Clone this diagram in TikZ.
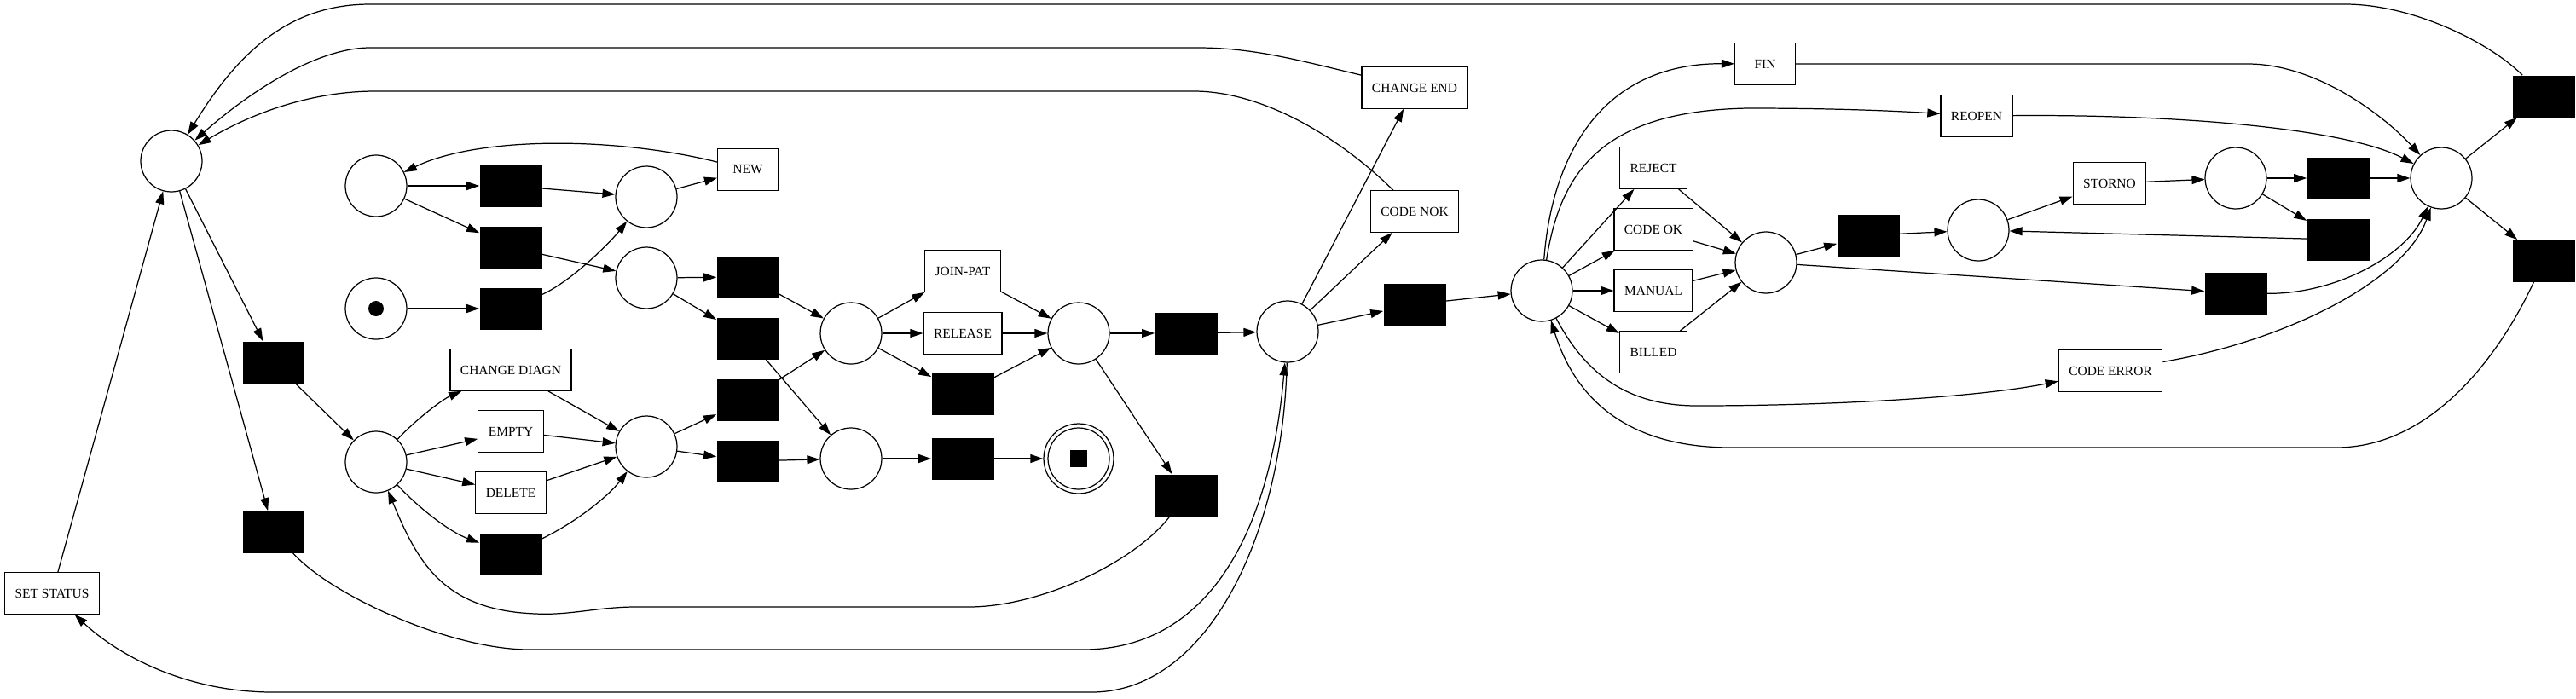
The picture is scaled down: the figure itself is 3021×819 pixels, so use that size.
\documentclass[tikz,border=0pt]{standalone}
\usepackage{fontspec}
\setmainfont{Liberation Serif}
\usetikzlibrary{arrows.meta}
\tikzset{
  plc/.style={draw, circle, minimum size=1.44cm, inner sep=0pt, line width=0.7pt},
  trn/.style={draw, rectangle, minimum width=1.42cm, minimum height=0.97cm, inner xsep=0.24cm, line width=0.7pt, font=\fontsize{8.8}{10}\selectfont},
  blk/.style={fill=black, rectangle, minimum width=1.46cm, minimum height=0.98cm, inner sep=0pt},
  edg/.style={-{Triangle[length=0.3cm, width=0.2cm]}, line width=0.7pt},
}
\begin{document}
\begin{tikzpicture}[x=0.02cm, y=-0.02cm]
  \useasboundingbox (0,0) rectangle (3021,819);
  % places
  \node[plc] (pMain) at (201,189) {};
  \node[plc] (pA) at (441,218) {};
  \node[plc] (pInit) at (441,362) {};
  \fill (pInit) circle (0.18cm);
  \node[plc] (pDiag) at (441,542) {};
  \node[plc] (pB) at (758,231) {};
  \node[plc] (pC) at (758,326) {};
  \node[plc] (pD) at (758,524) {};
  \node[plc] (pE) at (998,391) {};
  \node[plc] (pF) at (998,538) {};
  \node[plc] (pG) at (1265,391) {};
  \node[plc, minimum size=1.64cm] (pEnd) at (1265,538) {};
  \node[plc] (pEndIn) at (pEnd) {};
  \node[fill, minimum size=0.4cm, inner sep=0pt] (pEndMark) at (pEnd) {};
  \node[plc] (pH) at (1510,389) {};
  \node[plc] (pI) at (1808,341) {};
  \node[plc] (pJ) at (2071,308) {};
  \node[plc] (pK) at (2320,270) {};
  \node[plc] (pL) at (2622,209) {};
  \node[plc] (pM) at (2863,209) {};
  % named transitions
  \node[trn] (tSet) at (61,696) {SET STATUS};
  \node[trn] (tNew) at (877,199) {NEW};
  \node[trn] (tDiag) at (599,434) {CHANGE DIAGN};
  \node[trn] (tEmpty) at (599,506) {EMPTY};
  \node[trn] (tDel) at (599,578) {DELETE};
  \node[trn] (tJoin) at (1129,318) {JOIN-PAT};
  \node[trn] (tRel) at (1129,391) {RELEASE};
  \node[trn] (tChEnd) at (1659,103) {CHANGE END};
  \node[trn] (tNok) at (1659,248) {CODE NOK};
  \node[trn] (tFin) at (2070,75) {FIN};
  \node[trn] (tReopen) at (2318,136) {REOPEN};
  \node[trn] (tReject) at (1939,197) {REJECT};
  \node[trn] (tOk) at (1939,269) {CODE OK};
  \node[trn] (tManual) at (1939,341) {MANUAL};
  \node[trn] (tBilled) at (1939,413) {BILLED};
  \node[trn] (tStorno) at (2474,215) {STORNO};
  \node[trn] (tErr) at (2475,435) {CODE ERROR};
  % silent transitions
  \node[blk] (sA) at (321,425) {};
  \node[blk] (sB) at (321,624) {};
  \node[blk] (s1) at (599,218) {};
  \node[blk] (s2) at (599,290) {};
  \node[blk] (s3) at (599,362) {};
  \node[blk] (s4) at (599,650) {};
  \node[blk] (s5) at (877,325) {};
  \node[blk] (s6) at (877,397) {};
  \node[blk] (s7) at (877,469) {};
  \node[blk] (s8) at (877,541) {};
  \node[blk] (s9) at (1129,462) {};
  \node[blk] (s10) at (1129,538) {};
  \node[blk] (s11) at (1391,391) {};
  \node[blk] (s12) at (1391,581) {};
  \node[blk] (s13) at (1659,357) {};
  \node[blk] (s14) at (2191,276) {};
  \node[blk] (s15) at (2742,209) {};
  \node[blk] (s16) at (2742,281) {};
  \node[blk] (s17) at (2622,344) {};
  \node[blk] (s18) at (2983,113) {};
  \node[blk] (s19) at (2983,306) {};
  % left part
  \draw[edg] (tSet) -- (pMain);
  \draw[edg] (pMain) -- (sA);
  \draw[edg] (pMain) -- (sB);
  \draw[edg] (sA) -- (pDiag);
  \draw[edg] (pA) -- (s1);
  \draw[edg] (pA) -- (s2);
  \draw[edg] (s1) -- (pB);
  \draw[edg] (s2) -- (pC);
  \draw[edg] (pInit) -- (s3);
  \draw[edg] (s3) .. controls (670,330) and (715,285) .. (pB);
  \draw[edg] (pB) -- (tNew);
  \draw[edg] (tNew) .. controls (720,160) and (560,160) .. (pA);
  \draw[edg] (pC) -- (s5);
  \draw[edg] (pC) -- (s6);
  \draw[edg] (pDiag) .. controls (490,490) and (520,468) .. (tDiag);
  \draw[edg] (pDiag) -- (tEmpty);
  \draw[edg] (pDiag) -- (tDel);
  \draw[edg] (pDiag) .. controls (495,600) and (530,625) .. (s4);
  \draw[edg] (tDiag) -- (pD);
  \draw[edg] (tEmpty) -- (pD);
  \draw[edg] (tDel) -- (pD);
  \draw[edg] (s4) .. controls (680,610) and (715,580) .. (pD);
  \draw[edg] (pD) -- (s7);
  \draw[edg] (pD) -- (s8);
  \draw[edg] (s5) -- (pE);
  \draw[edg] (s7) -- (pE);
  \draw[edg] (s6) -- (pF);
  \draw[edg] (s8) -- (pF);
  % middle part
  \draw[edg] (pE) -- (tJoin);
  \draw[edg] (pE) -- (tRel);
  \draw[edg] (pE) -- (s9);
  \draw[edg] (tJoin) -- (pG);
  \draw[edg] (tRel) -- (pG);
  \draw[edg] (s9) -- (pG);
  \draw[edg] (pF) -- (s10);
  \draw[edg] (s10) -- (pEnd);
  \draw[edg] (pG) -- (s11);
  \draw[edg] (pG) -- (s12);
  \draw[edg] (s11) -- (pH);
  \draw[edg] (pH) -- (tChEnd);
  \draw[edg] (pH) -- (tNok);
  \draw[edg] (pH) -- (s13);
  \draw[edg] (s13) -- (pI);
  % right part
  \draw[edg] (pI) -- (tReject);
  \draw[edg] (pI) -- (tOk);
  \draw[edg] (pI) -- (tManual);
  \draw[edg] (pI) -- (tBilled);
  \draw[edg] (tReject) -- (pJ);
  \draw[edg] (tOk) -- (pJ);
  \draw[edg] (tManual) -- (pJ);
  \draw[edg] (tBilled) -- (pJ);
  \draw[edg] (pJ) -- (s14);
  \draw[edg] (s14) -- (pK);
  \draw[edg] (pK) -- (tStorno);
  \draw[edg] (tStorno) -- (pL);
  \draw[edg] (pL) -- (s15);
  \draw[edg] (pL) -- (s16);
  \draw[edg] (s16) -- (pK);
  \draw[edg] (s15) -- (pM);
  \draw[edg] (pJ) -- (s17);
  \draw[edg] (s17) .. controls (2740,345) and (2820,300) .. (pM);
  \draw[edg] (pM) -- (s18);
  \draw[edg] (pM) -- (s19);
  \draw[edg] (pI) .. controls (1820,180) and (1880,74) .. (tFin);
  \draw[edg] (tFin) -- (2636,75) .. controls (2720,75) and (2800,140) .. (pM);
  \draw[edg] (pI) .. controls (1830,200) and (1880,130) .. (2050,127) .. controls (2150,127) and (2220,130) .. (tReopen);
  \draw[edg] (tReopen) .. controls (2550,134) and (2750,150) .. (pM);
  \draw[edg] (pI) .. controls (1860,440) and (1910,476) .. (1990,476) .. controls (2150,476) and (2320,466) .. (tErr);
  \draw[edg] (tErr) .. controls (2680,400) and (2820,330) .. (pM);
  \draw[edg] (s19) .. controls (2930,420) and (2850,525) .. (2740,525) -- (2030,525) .. controls (1900,525) and (1845,460) .. (pI);
  % long loops
  \draw[edg] (s18) .. controls (2920,50) and (2830,5) .. (2750,5) -- (434,5) .. controls (340,5) and (280,60) .. (pMain);
  \draw[edg] (tChEnd) .. controls (1520,70) and (1470,56) .. (1404,56) -- (434,56) .. controls (370,56) and (290,110) .. (pMain);
  \draw[edg] (tNok) .. controls (1570,160) and (1480,107) .. (1400,107) -- (440,107) .. controls (370,107) and (300,130) .. (pMain);
  \draw[edg] (sB) .. controls (390,700) and (530,762) .. (620,762) -- (1270,762) .. controls (1420,762) and (1490,620) .. (pH);
  \draw[edg] (pH) .. controls (1505,620) and (1420,812) .. (1280,812) -- (320,812) .. controls (220,812) and (140,770) .. (tSet);
  \draw[edg] (s12) .. controls (1330,660) and (1220,712) .. (1136,712) -- (746,712) .. controls (700,712) and (670,722) .. (628,720) .. controls (520,716) and (490,660) .. (pDiag);
\end{tikzpicture}
\end{document}
